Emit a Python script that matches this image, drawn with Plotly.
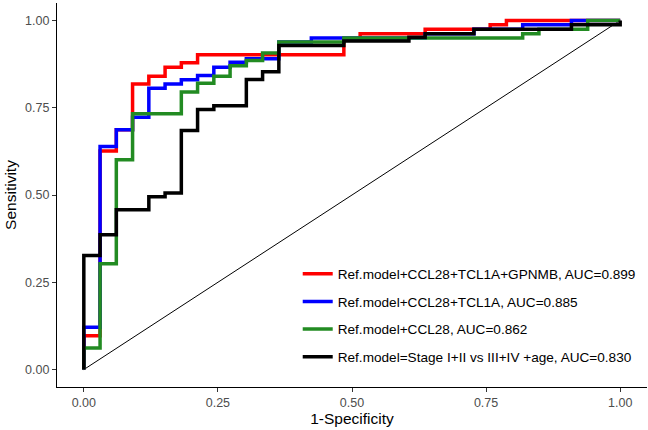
import plotly.graph_objects as go

# ROC step corners (fpr, sensitivity), drawn with 'hv' steps
red_fpr = [0, 0, 0.0303, 0.0606, 0.0909, 0.1212, 0.1515, 0.1818, 0.2121, 0.4848, 0.5152, 0.6364, 0.7576, 0.7879, 1.0]
red_tpr = [0, 0.097, 0.626, 0.687, 0.818, 0.840, 0.866, 0.879, 0.902, 0.948, 0.962, 0.975, 0.9875, 1.0, 1.0]

blue_fpr = [0, 0, 0.0303, 0.0606, 0.0909, 0.1212, 0.1515, 0.1818, 0.2121, 0.2424, 0.2727, 0.3030, 0.3636, 0.4242, 0.6364, 0.7273, 0.8182, 0.9091, 1.0]
blue_tpr = [0, 0.121, 0.639, 0.687, 0.723, 0.806, 0.818, 0.830, 0.842, 0.866, 0.880, 0.890, 0.938, 0.950, 0.962, 0.975, 0.9875, 1.0, 1.0]

green_fpr = [0, 0, 0.0303, 0.0606, 0.0909, 0.1818, 0.2121, 0.2424, 0.2727, 0.3030, 0.3333, 0.3636, 0.4848, 0.8182, 0.8485, 0.9394, 1.0]
green_tpr = [0, 0.062, 0.303, 0.601, 0.733, 0.795, 0.820, 0.840, 0.870, 0.885, 0.907, 0.938, 0.950, 0.962, 0.975, 1.0, 1.0]

black_fpr = [0, 0, 0.0303, 0.0606, 0.1212, 0.1515, 0.1818, 0.2121, 0.2424, 0.3030, 0.3333, 0.3636, 0.4848, 0.6061, 0.6364, 0.7273, 0.9091, 1.0]
black_tpr = [0, 0.327, 0.386, 0.458, 0.495, 0.506, 0.685, 0.745, 0.756, 0.831, 0.853, 0.928, 0.941, 0.952, 0.962, 0.975, 0.9875, 1.0]

labels = [
    "Ref.model+CCL28+TCL1A+GPNMB, AUC=0.899",
    "Ref.model+CCL28+TCL1A, AUC=0.885",
    "Ref.model+CCL28, AUC=0.862",
    "Ref.model=Stage I+II vs III+IV +age, AUC=0.830",
]
colors = ["#FF0000", "#0000FF", "#228B22", "#000000"]

diag_x = [0, 1]
diag_y = [0, 1]

FONT = "Liberation Sans, Arial, sans-serif"

fig = go.Figure()
fig.add_trace(go.Scatter(x=diag_x, y=diag_y, mode="lines",
                         line=dict(color="black", width=1), showlegend=False,
                         hoverinfo="skip"))

series = [(red_fpr, red_tpr), (blue_fpr, blue_tpr), (green_fpr, green_tpr), (black_fpr, black_tpr)]
for i, ((xs, ys), lab, col) in enumerate(zip(series, labels, colors)):
    fig.add_trace(go.Scatter(x=xs, y=ys, mode="lines", name=lab,
                             line=dict(color=col, width=3.5, shape="hv"),
                             legendgroup=f"g{i}"))

fig.update_layout(
    width=648, height=430,
    margin=dict(l=57, r=1, t=3, b=43),
    plot_bgcolor="white", paper_bgcolor="white",
    font=dict(family=FONT, size=12, color="black"),
    legend=dict(x=0.408, y=0.335, xanchor="left", yanchor="top",
                font=dict(family=FONT, size=13.6, color="black"),
                tracegroupgap=7, bgcolor="rgba(0,0,0,0)"),
    xaxis=dict(range=[-0.05, 1.05], tickvals=[0, 0.25, 0.5, 0.75, 1.0],
               ticktext=["0.00", "0.25", "0.50", "0.75", "1.00"],
               showgrid=False, zeroline=False, showline=True, linecolor="black", linewidth=1.3,
               ticks="outside", ticklen=4, tickcolor="#333333", tickwidth=1.1,
               tickfont=dict(family=FONT, size=12.5, color="#4D4D4D"),
               title=dict(text="1-Specificity", font=dict(family=FONT, size=15.5, color="black"), standoff=1)),
    yaxis=dict(range=[-0.05, 1.05], tickvals=[0, 0.25, 0.5, 0.75, 1.0],
               ticktext=["0.00", "0.25", "0.50", "0.75", "1.00"],
               showgrid=False, zeroline=False, showline=True, linecolor="black", linewidth=1.3,
               ticks="outside", ticklen=4, tickcolor="#333333", tickwidth=1.1,
               tickfont=dict(family=FONT, size=12.5, color="#4D4D4D"),
               title=dict(text="Sensitivity", font=dict(family=FONT, size=15.5, color="black"), standoff=4)),
)

fig.write_html("out.html", config={"displayModeBar": False},
               post_script="document.body.style.margin='0';document.body.style.overflow='hidden';")
